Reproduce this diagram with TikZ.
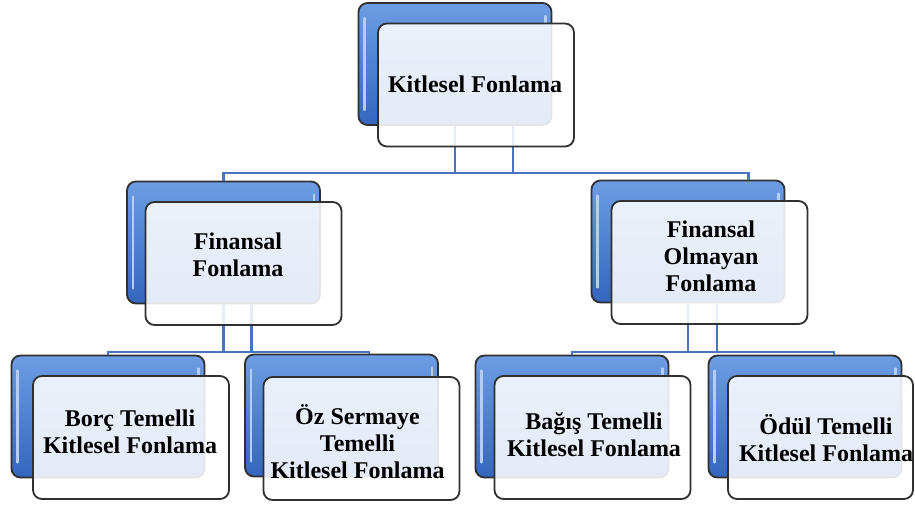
\documentclass[tikz,border=0pt]{standalone}
\usepackage{fontspec}
\setmainfont{Liberation Serif}
\usetikzlibrary{calc}
\definecolor{cardblueT}{HTML}{6C9DE4}
\definecolor{cardblueB}{HTML}{3565BD}
\definecolor{cardedge}{HTML}{303030}
\definecolor{connblue}{HTML}{4A74BE}
\definecolor{hilite}{HTML}{B5CDF2}
\begin{document}
\begin{tikzpicture}[x=1pt,y=-1pt,
  backcard/.style={draw=cardedge, line width=1.8pt, rounded corners=9pt, top color=cardblueT, bottom color=cardblueB, minimum width=193pt, minimum height=122pt, inner sep=0pt},
  frontcard/.style={draw=cardedge, line width=1.8pt, rounded corners=9pt, fill=white, fill opacity=0.87, minimum width=196pt, minimum height=123pt, inner sep=0pt},
  cardtext/.style={font=\fontsize{24}{27}\selectfont\bfseries, align=center, inner sep=0pt, text=black},
  conn/.style={draw=connblue, line width=2.3pt},
  hl/.style={draw=hilite, line width=2.5pt, line cap=round}]
\useasboundingbox (0,0) rectangle (915,507);
% back cards
\node[backcard] (topB) at (455,64) {};
\node[backcard] (finB) at (223.5,242.5) {};
\node[backcard] (nonB) at (688,241.5) {};
\node[backcard] (borcB) at (108,416.5) {};
\node[backcard] (ozB) at (341.5,415.5) {};
\node[backcard] (bagisB) at (572,416.5) {};
\node[backcard] (odulB) at (805,416.5) {};
\foreach \n in {topB,finB,nonB,borcB,ozB,bagisB,odulB}{
  \draw[hl] ($(\n.north west)+(7,16)$) -- ($(\n.south west)+(7,-16)$);
  \draw[hl] ($(\n.north east)+(-7,14)$) -- ($(\n.north east)+(-7,22)$);
}
% connectors
\coordinate (busTop) at (0,173);
\coordinate (busFin) at (0,352);
\coordinate (busNon) at (0,352);
\coordinate (topR) at ($(topB.south)+(58,0)$);
\coordinate (nonDrop) at ($(nonB.north west)!0.81!(nonB.north east)$);
\draw[conn] (topB.south) -- (topB.south |- busTop);
\draw[conn] (topR) -- (topR |- busTop);
\draw[conn] (finB.north) -- (finB.north |- busTop) -- (nonDrop |- busTop) -- (nonDrop);
\coordinate (finR) at ($(finB.south)+(28,0)$);
\coordinate (ozDrop) at ($(ozB.north west)!0.64!(ozB.north east)$);
\draw[conn] (finB.south) -- (finB.south |- busFin);
\draw[conn] (finR) -- (finR |- busFin);
\draw[conn] (borcB.north) -- (borcB.north |- busFin) -- (ozDrop |- busFin) -- (ozDrop);
\coordinate (nonR) at ($(nonB.south)+(29,0)$);
\coordinate (odulDrop) at ($(odulB.north west)!0.65!(odulB.north east)$);
\draw[conn] (nonB.south) -- (nonB.south |- busNon);
\draw[conn] (nonR) -- (nonR |- busNon);
\draw[conn] (bagisB.north) -- (bagisB.north |- busNon) -- (odulDrop |- busNon) -- (odulDrop);
% front cards
\node[frontcard] (topF) at (476,85) {};
\node[frontcard] (finF) at (243.5,263.5) {};
\node[frontcard] (nonF) at (709.5,262.5) {};
\node[frontcard] (borcF) at (131,437.5) {};
\node[frontcard] (ozF) at (361.5,438.5) {};
\node[frontcard] (bagisF) at (592.5,437.5) {};
\node[frontcard, minimum width=185pt] (odulF) at (820.5,437.5) {};
% texts
\node[cardtext] (topT) at (475,84) {Kitlesel Fonlama};
\node[cardtext] (finT) at (238,255) {Finansal\\Fonlama};
\node[cardtext] (nonT) at (711,256) {Finansal\\Olmayan\\Fonlama};
\node[cardtext] (borcT) at (130,432) {Borç Temelli\\Kitlesel Fonlama};
\node[cardtext] (ozT) at (357.5,442) {Öz Sermaye\\Temelli\\Kitlesel Fonlama};
\node[cardtext] (bagisT) at (594,435) {Bağış Temelli\\Kitlesel Fonlama};
\node[cardtext] (odulT) at (826,438) {Ödül Temelli\\Kitlesel Fonlama};
\end{tikzpicture}
\end{document}
